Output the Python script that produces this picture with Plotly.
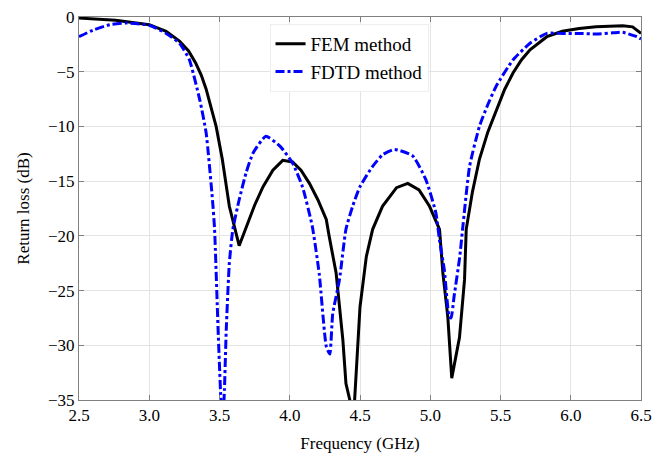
import plotly.graph_objects as go

fem_freq = [2.5, 2.76, 3.0, 3.12, 3.215, 3.28, 3.33, 3.37, 3.405, 3.44, 3.476, 3.52, 3.57, 3.64, 3.685,
            3.75, 3.81, 3.88, 3.95, 4.02, 4.08, 4.14, 4.2, 4.26, 4.28, 4.33, 4.378, 4.40, 4.455, 4.50,
            4.545, 4.59, 4.66, 4.76, 4.84, 4.92, 4.995, 5.066, 5.09, 5.125, 5.153, 5.208, 5.244, 5.256,
            5.30, 5.35, 5.41, 5.47, 5.53, 5.59, 5.65, 5.71, 5.83, 5.94, 6.06, 6.18, 6.37, 6.44, 6.5]
fem_rl = [-0.1, -0.3, -0.7, -1.3, -2.2, -3.1, -4.2, -5.3, -6.6, -8.2, -10.0, -13.0, -17.3, -20.9, -19.4,
          -17.2, -15.5, -14.0, -13.1, -13.25, -14.0, -15.2, -16.7, -18.5, -20.0, -23.4, -29.5, -33.5, -36.5, -26.5,
          -21.9, -19.4, -17.3, -15.6, -15.2, -15.8, -17.3, -19.4, -23.4, -27.4, -33.0, -29.3, -24.0, -19.4,
          -16.0, -13.0, -10.5, -8.5, -6.6, -5.1, -3.9, -3.0, -1.8, -1.3, -1.05, -0.9, -0.8, -0.9, -1.5]

fdtd_freq = [2.5, 2.6, 2.72, 2.84, 3.0, 3.12, 3.215, 3.285, 3.36, 3.405, 3.45, 3.465, 3.49, 3.51,
             3.522, 3.535, 3.548, 3.57, 3.595, 3.64, 3.69, 3.74, 3.83, 3.93, 4.02, 4.09, 4.16, 4.21,
             4.26, 4.285, 4.306, 4.354, 4.40, 4.45, 4.50, 4.59, 4.66, 4.745, 4.875, 4.97, 5.04,
             5.066, 5.10, 5.135, 5.148, 5.17, 5.21, 5.23, 5.28, 5.35, 5.41, 5.47, 5.59, 5.71, 5.83,
             5.94, 6.06, 6.18, 6.30, 6.37, 6.47, 6.5]
fdtd_rl = [-1.8, -1.2, -0.7, -0.55, -0.75, -1.5, -2.4, -3.9, -7.6, -10.6, -16.7, -19.4, -28.6, -35.0,
           -37.5, -34.1, -28.6, -22.5, -19.4, -16.7, -14.2, -12.4, -10.9, -11.8, -13.35, -15.5, -19.1, -23.5,
           -30.1, -30.8, -27.1, -24.0, -19.4, -17.2, -15.5, -13.65, -12.6, -12.1, -12.7, -14.9, -17.9,
           -20.4, -23.1, -27.4, -27.5, -25.5, -21.9, -19.4, -13.65, -10.0, -8.0, -6.3, -3.9, -2.4, -1.5,
           -1.5, -1.5, -1.55, -1.45, -1.4, -1.8, -2.0]

x_ticks = [2.5, 3.0, 3.5, 4.0, 4.5, 5.0, 5.5, 6.0, 6.5]
y_ticks = [0, -5, -10, -15, -20, -25, -30, -35]

FONT = "Liberation Serif"

fig = go.Figure()
fig.add_trace(go.Scatter(x=fem_freq, y=fem_rl, mode="lines", name="FEM method",
                         line=dict(color="black", width=3)))
fig.add_trace(go.Scatter(x=fdtd_freq, y=fdtd_rl, mode="lines", name="FDTD method",
                         line=dict(color="#0000ff", width=3, dash="9px,3px,3px,3px",
                                   shape="spline", smoothing=0.5)))

axis_common = dict(showgrid=True, gridcolor="#e3e3e3", gridwidth=1, showline=True,
                   linecolor="#808080", linewidth=1, mirror="ticks", ticks="inside",
                   ticklen=5, tickcolor="#808080", zeroline=False,
                   tickfont=dict(family=FONT, size=17, color="black"))

fig.update_xaxes(range=[2.5, 6.5], tickvals=x_ticks, tickformat=".1f", automargin=False,
                 title=dict(text="Frequency (GHz)", font=dict(family=FONT, size=17, color="black"),
                            standoff=12),
                 **axis_common)
fig.update_yaxes(range=[-35, 0], tickvals=y_ticks, automargin=False,
                 title=dict(text="Return loss (dB)", font=dict(family=FONT, size=17, color="black"),
                            standoff=14),
                 **axis_common)

fig.update_layout(
    width=659, height=454,
    margin=dict(l=79, r=18, t=17, b=54),
    paper_bgcolor="white", plot_bgcolor="white",
    font=dict(family=FONT, size=17, color="black"),
    showlegend=True,
    legend=dict(x=0.339, y=0.982, xanchor="left", yanchor="top",
                bgcolor="white", bordercolor="#eeeeee", borderwidth=1,
                font=dict(family=FONT, size=19, color="black"),
                tracegroupgap=0, itemwidth=30),
)

fig.write_html("out.html")
